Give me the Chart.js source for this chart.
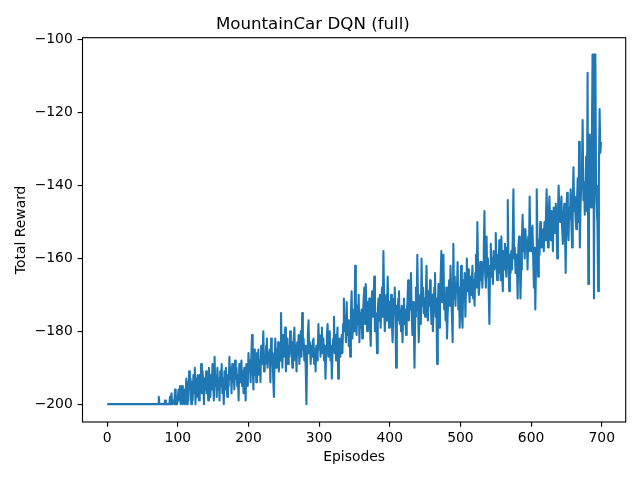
<!DOCTYPE html>
<html>
<head>
<meta charset="utf-8">
<script src="https://cdn.jsdelivr.net/npm/chart.js@4/dist/chart.umd.min.js"></script>
<style>
  html, body { margin: 0; padding: 0; background: #fff; }
  canvas { display: block; }
</style>
</head>
<body>
<canvas id="rewardChart" width="640" height="480"></canvas>
<script>
const TITLE = "MountainCar DQN (full)";
const X_LABEL = "Episodes";
const Y_LABEL = "Total Reward";

const xTicks = [0, 100, 200, 300, 400, 500, 600, 700];
const yTicks = [-200, -180, -160, -140, -120, -100];

// total reward per episode
const rewards = [
  -200, -200, -200, -200, -200, -200, -200, -200, -200, -200,
  -200, -200, -200, -200, -200, -200, -200, -200, -200, -200,
  -200, -200, -200, -200, -200, -200, -200, -200, -200, -200,
  -200, -200, -200, -200, -200, -200, -200, -200, -200, -200,
  -200, -200, -200, -200, -200, -200, -200, -200, -200, -200,
  -200, -200, -200, -200, -200, -200, -200, -200, -200, -200,
  -200, -200, -200, -200, -200, -200, -200, -200, -200, -200,
  -200, -200, -200, -198, -200, -200, -200, -200, -200, -200,
  -200, -200, -199, -200, -200, -200, -200, -200, -200, -198,
  -200, -197, -200, -200, -199, -200, -196, -200, -198, -200,
  -200, -196, -199, -195, -200, -197, -195, -200, -199, -196,
  -200, -198, -193, -200, -194, -199, -191, -196, -193, -200,
  -194, -199, -192, -197, -190, -200, -193, -198, -192, -196,
  -199, -192, -195, -189, -197, -191, -194, -200, -193, -196,
  -191, -197, -193, -199, -190, -195, -198, -192, -196, -189,
  -194, -199, -187, -195, -192, -198, -190, -196, -193, -199,
  -191, -195, -189, -197, -193, -200, -191, -196, -190, -194,
  -198, -192, -195, -187, -193, -190, -197, -189, -194, -191,
  -196, -188, -193, -190, -195, -192, -199, -189, -194, -191,
  -188, -195, -191, -197, -190, -193, -199, -189, -192, -195,
  -186, -191, -188, -194, -187, -181, -190, -196, -185, -192,
  -188, -194, -186, -190, -185, -192, -188, -194, -184, -189,
  -186, -180, -191, -187, -189, -184, -182, -190, -186, -188,
  -185, -194, -182, -189, -186, -193, -198, -187, -182, -190,
  -185, -189, -183, -191, -186, -188, -175, -184, -190, -181,
  -187, -183, -179, -191, -185, -182, -189, -184, -187, -180,
  -186, -183, -190, -185, -182, -179, -188, -184, -191, -183,
  -186, -181, -189, -184, -180, -187, -175, -185, -182, -188,
  -184, -190, -200, -186, -181, -177, -186, -183, -189, -184,
  -187, -183, -182, -189, -185, -191, -184, -188, -186, -178,
  -185, -181, -187, -183, -179, -186, -182, -188, -184, -193,
  -185, -181, -178, -187, -183, -180, -188, -184, -193, -185,
  -182, -176, -186, -181, -188, -184, -179, -193, -185, -182,
  -187, -183, -181, -186, -178, -171, -180, -176, -183, -172,
  -181, -177, -184, -179, -187, -175, -169, -182, -178, -174,
  -180, -162, -176, -181, -173, -178, -170, -183, -175, -179,
  -174, -182, -176, -171, -168, -178, -167, -174, -180, -172,
  -177, -171, -179, -184, -173, -169, -176, -172, -165, -180,
  -175, -178, -186, -174, -171, -177, -170, -179, -173, -168,
  -176, -158, -172, -180, -175, -170, -177, -165, -174, -179,
  -172, -176, -170, -178, -183, -174, -171, -168, -176, -190,
  -173, -177, -171, -169, -178, -174, -180, -173, -183, -176,
  -171, -178, -174, -181, -175, -172, -166, -177, -170, -174,
  -164, -175, -181, -172, -178, -190, -176, -168, -174, -159,
  -172, -183, -176, -170, -178, -160, -173, -168, -175, -171,
  -176, -170, -162, -174, -177, -169, -173, -166, -172, -178,
  -170, -180, -174, -168, -164, -176, -171, -189, -173, -167,
  -179, -170, -165, -158, -172, -168, -159, -174, -170, -177,
  -168, -182, -175, -171, -166, -173, -162, -170, -176, -183,
  -156, -171, -165, -173, -167, -169, -161, -174, -168, -179,
  -170, -162, -175, -179, -166, -171, -164, -176, -168, -160,
  -169, -163, -168, -172, -165, -170, -167, -162, -171, -166,
  -173, -164, -159, -168, -150, -163, -170, -167, -161, -166,
  -161, -168, -163, -158, -147, -164, -168, -154, -165, -160,
  -169, -178, -162, -156, -165, -160, -167, -158, -163, -161,
  -153, -162, -166, -159, -164, -155, -161, -166, -154, -163,
  -169, -158, -163, -156, -161, -165, -157, -144, -160, -169,
  -159, -164, -158, -163, -155, -141, -160, -157, -164, -159,
  -162, -171, -157, -154, -160, -171, -163, -155, -148, -158,
  -152, -160, -152, -157, -155, -163, -154, -158, -143, -156,
  -158, -153, -151, -160, -168, -157, -174, -162, -141, -154,
  -165, -155, -159, -150, -156, -157, -153, -152, -158, -150,
  -155, -149, -141, -152, -157, -148, -143, -151, -155, -147,
  -152, -158, -146, -148, -153, -145, -150, -160, -148, -140,
  -147, -150, -146, -143, -152, -156, -149, -145, -153, -164,
  -148, -142, -151, -155, -146, -149, -141, -150, -157, -145,
  -135, -147, -143, -149, -152, -144, -138, -150, -128, -157,
  -146, -140, -135, -122, -144, -139, -148, -142, -132, -147,
  -109, -167, -141, -126, -139, -146, -130, -104, -104, -171,
  -104, -104, -140, -146, -151, -169, -137, -119, -131, -128,
];

const episodes = rewards.map((_, i) => i);

const FONT = "'DejaVu Sans', sans-serif";
const TICK_LEN = 4.86;
const LINE_W = 1.11;

const fmt = (v) => String(v).replace("-", "\u2212");

// matplotlib style frame round the plot area
const frame = {
  id: "frame",
  afterDraw(chart) {
    const { ctx, chartArea: a } = chart;
    ctx.save();
    ctx.strokeStyle = "#000";
    ctx.lineWidth = LINE_W;
    ctx.strokeRect(a.left, a.top, a.right - a.left, a.bottom - a.top);
    ctx.restore();
  },
};

new Chart(document.getElementById("rewardChart"), {
  type: "line",
  data: {
    datasets: [
      {
        data: rewards.map((y, i) => ({ x: episodes[i], y })),
        borderColor: "#1f77b4",
        borderWidth: 2.08,
        borderJoinStyle: "round",
        pointRadius: 0,
        tension: 0,
        fill: false,
      },
    ],
  },
  options: {
    animation: false,
    responsive: false,
    devicePixelRatio: 1,
    layout: { padding: { left: 0, right: 14.3, top: 0, bottom: 0 } },
    scales: {
      x: {
        type: "linear",
        min: -34.95,
        max: 733.95,
        afterFit: (s) => { s.height = 58; },
        afterBuildTicks: (s) => { s.ticks = xTicks.map((v) => ({ value: v })); },
        grid: { drawOnChartArea: false, drawTicks: true, tickLength: TICK_LEN, color: "#000", lineWidth: LINE_W },
        border: { display: false },
        ticks: { color: "#000", padding: 3, font: { family: FONT, size: 13.9 }, maxRotation: 0, callback: fmt },
        title: { display: true, text: X_LABEL, color: "#000", font: { family: FONT, size: 13.9 }, padding: { top: 0, bottom: 14.7 } },
      },
      y: {
        type: "linear",
        min: -204.9,
        max: -99.4,
        afterFit: (s) => { s.width = 82.5; },
        afterBuildTicks: (s) => { s.ticks = yTicks.map((v) => ({ value: v })); },
        grid: { drawOnChartArea: false, drawTicks: true, tickLength: TICK_LEN, color: "#000", lineWidth: LINE_W },
        border: { display: false },
        ticks: { color: "#000", padding: 4.86, font: { family: FONT, size: 13.9 }, callback: fmt },
        title: { display: true, text: Y_LABEL, color: "#000", font: { family: FONT, size: 13.9 }, padding: { top: 12.7, bottom: 0 } },
      },
    },
    plugins: {
      legend: { display: false },
      tooltip: { enabled: false },
      title: {
        display: true,
        text: TITLE,
        color: "#000",
        font: { family: FONT, size: 16.67, weight: "normal" },
        padding: { top: 15, bottom: 2.7 },
      },
    },
  },
  plugins: [frame],
});
</script>
</body>
</html>
